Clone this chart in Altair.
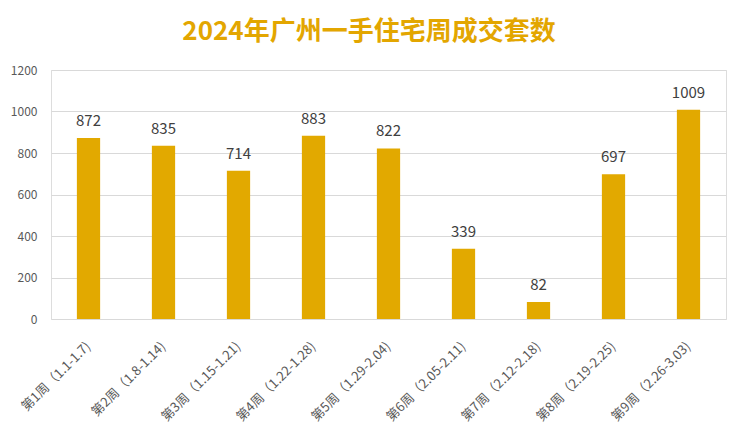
import altair as alt
import pandas as pd

weeks = ["第1周（1.1-1.7)", "第2周（1.8-1.14)", "第3周（1.15-1.21)", "第4周（1.22-1.28)",
         "第5周（1.29-2.04)", "第6周（2.05-2.11)", "第7周（2.12-2.18)", "第8周（2.19-2.25)",
         "第9周（2.26-3.03)"]
values = [872, 835, 714, 883, 822, 339, 82, 697, 1009]
title_text = "2024年广州一手住宅周成交套数"

df = pd.DataFrame({"week": weeks, "value": values})

FONT = "Noto Sans CJK SC"
BAR = "#E2A900"

x_enc = alt.X("week:N", sort=weeks, title=None,
              scale=alt.Scale(paddingInner=0.69, paddingOuter=0.345),
              axis=alt.Axis(labelAngle=-45, labelAlign="right", labelBaseline="middle",
                            labelPadding=25, ticks=False, domain=False, grid=False,
                            labelFont=FONT, labelFontSize=13, labelColor="#595959",
                            labelLimit=200))
y_enc = alt.Y("value:Q", title=None,
              scale=alt.Scale(domain=[0, 1200], nice=False),
              axis=alt.Axis(values=[0, 200, 400, 600, 800, 1000, 1200], format="d",
                            ticks=False, domain=False, grid=True, gridColor="#D9D9D9",
                            gridWidth=1, labelPadding=14, labelFont=FONT,
                            labelFontSize=12, labelColor="#595959"))

base = alt.Chart(df)
bars = base.mark_bar(color=BAR).encode(x=x_enc, y=y_enc)
labels = base.mark_text(dy=-9, baseline="bottom", font=FONT, fontSize=15,
                        color="#404040").encode(x=alt.X("week:N", sort=weeks),
                                                 y="value:Q", text="value:Q")
title = alt.Chart(pd.DataFrame({"t": [title_text]})).mark_text(
    font=FONT, fontSize=26, fontWeight="bold", color="#E3A600",
    baseline="middle", align="center").encode(
    x=alt.value(318), y=alt.value(-38), text="t:N")

chart = alt.layer(bars, labels, title).properties(
    width=675, height=249,
    padding={"left": 43, "top": 62, "right": 6, "bottom": 107},
    autosize=alt.AutoSizeParams(type="none"),
).configure_view(stroke=None).configure(background="white")

chart.save("out.html", embed_options={"renderer": "svg", "actions": False})
